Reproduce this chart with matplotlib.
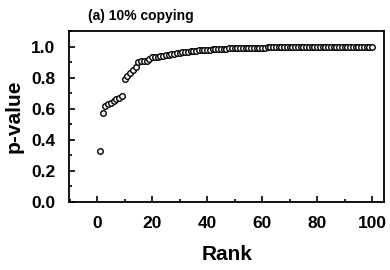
import numpy as np
import matplotlib.pyplot as plt
from matplotlib.ticker import MultipleLocator

plt.rcParams['font.family'] = ['Liberation Sans', 'DejaVu Sans']

rank = list(range(1, 101))
p_value = [
    0.33, 0.57, 0.62, 0.63, 0.64, 0.65, 0.66, 0.67, 0.68, 0.79,
    0.81, 0.83, 0.85, 0.87, 0.90, 0.91, 0.905, 0.91, 0.92, 0.93,
    0.932, 0.935, 0.938, 0.94, 0.945, 0.948, 0.95, 0.953, 0.956, 0.96,
    0.962, 0.965, 0.967, 0.97, 0.972, 0.974, 0.976, 0.978, 0.979, 0.98,
    0.981, 0.982, 0.983, 0.984, 0.985, 0.986, 0.987, 0.988, 0.989, 0.99,
    0.99, 0.991, 0.991, 0.992, 0.992, 0.993, 0.993, 0.993, 0.994, 0.994,
    0.994, 0.995, 0.995, 0.995, 0.995, 0.996, 0.996, 0.996, 0.996, 0.997,
    0.997, 0.997, 0.997, 0.997, 0.998, 0.998, 0.998, 0.998, 0.998, 0.998,
    0.998, 0.999, 0.999, 0.999, 0.999, 0.999, 0.999, 0.999, 0.999, 0.999,
    1.0, 1.0, 1.0, 1.0, 1.0, 1.0, 1.0, 1.0, 1.0, 1.0,
]

fig = plt.figure(figsize=(3.9, 2.7), dpi=100)
ax = fig.add_axes([0.177, 0.252, 0.808, 0.633])

ax.plot(rank, p_value, linestyle='none', marker='o', markersize=4,
        markerfacecolor='white', markeredgecolor='black', markeredgewidth=1.0)

ax.set_xlim(-10.2, 104.4)
ax.set_ylim(0, 1.1)
ax.xaxis.set_major_locator(MultipleLocator(20))
ax.xaxis.set_minor_locator(MultipleLocator(10))
ax.yaxis.set_minor_locator(MultipleLocator(0.1))
ax.set_yticks(np.arange(0, 1.01, 0.2))
ax.set_yticklabels(['0.0', '0.2', '0.4', '0.6', '0.8', '1.0'])

ax.tick_params(which='both', direction='in', width=1.2, labelsize=12.5)
ax.tick_params(which='major', length=4)
ax.tick_params(which='minor', length=2)
ax.tick_params(axis='x', pad=10)
ax.tick_params(axis='y', pad=10)
for lab in ax.get_xticklabels() + ax.get_yticklabels():
    lab.set_fontweight('bold')

for s in ax.spines.values():
    s.set_linewidth(1.3)

ax.set_xlabel('Rank', fontsize=15, fontweight='bold', labelpad=10)
ax.set_ylabel('p-value', fontsize=15, fontweight='bold', labelpad=5)
fig.text(0.225, 0.94, '(a) 10% copying', fontsize=10, fontweight='bold',
         ha='left', va='center')

fig.savefig('out.png', dpi=100)
